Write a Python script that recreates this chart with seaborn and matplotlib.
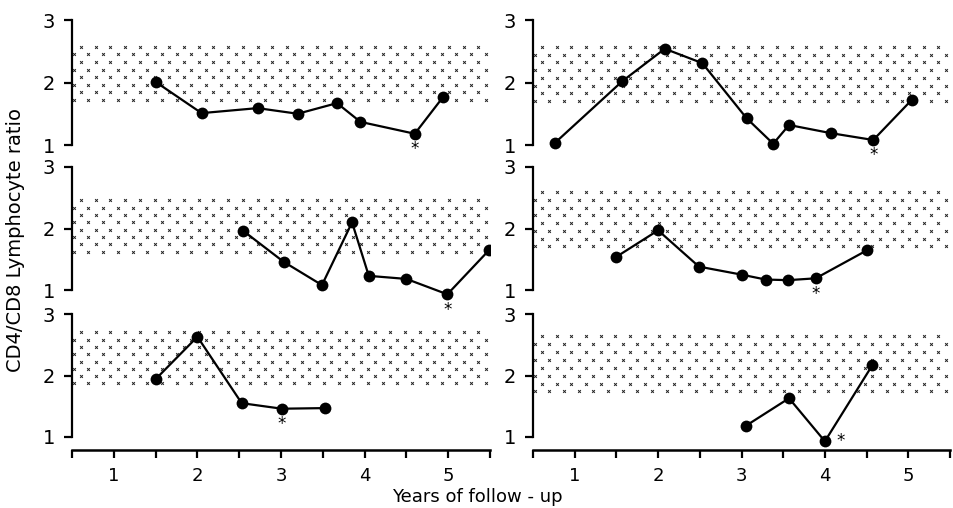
import numpy as np
import pandas as pd
import matplotlib
matplotlib.use("Agg")
from matplotlib import pyplot as plt
import seaborn as sns

# years of follow-up / CD4:CD8 ratio for each patient panel
years_tl = [1.5, 2.05, 2.72, 3.2, 3.67, 3.95, 4.6, 4.94]
ratio_tl = [2.01, 1.51, 1.59, 1.5, 1.67, 1.37, 1.18, 1.77]
years_tr = [0.76, 1.57, 2.08, 2.53, 3.06, 3.38, 3.57, 4.07, 4.58, 5.04]
ratio_tr = [1.03, 2.02, 2.54, 2.31, 1.43, 1.02, 1.32, 1.19, 1.08, 1.72]
years_ml = [2.55, 3.03, 3.49, 3.85, 4.05, 4.5, 4.99, 5.49]
ratio_ml = [1.96, 1.46, 1.08, 2.1, 1.23, 1.18, 0.93, 1.65]
years_mr = [1.5, 2.0, 2.49, 3.0, 3.29, 3.56, 3.89, 4.51]
ratio_mr = [1.54, 1.97, 1.38, 1.25, 1.17, 1.16, 1.19, 1.65]
years_bl = [1.5, 2.0, 2.53, 3.01, 3.53]
ratio_bl = [1.94, 2.63, 1.55, 1.46, 1.47]
years_br = [3.05, 3.57, 4.0, 4.57]
ratio_br = [1.18, 1.63, 0.93, 2.17]

# normal range (stippled band) per panel
band_low = [1.72, 1.70, 1.62, 1.71, 1.87, 1.74]
band_high = [2.57, 2.57, 2.46, 2.59, 2.70, 2.64]

# index of the point marked with an asterisk
star_idx = [6, 8, 6, 6, 3, 2]
star_side = ["below", "below", "below", "below", "below", "right"]

panels = [
    (years_tl, ratio_tl), (years_tr, ratio_tr),
    (years_ml, ratio_ml), (years_mr, ratio_mr),
    (years_bl, ratio_bl), (years_br, ratio_br),
]

sns.set_style("ticks")
plt.rcParams["font.family"] = ["DejaVu Sans"]
for key in ["text.color", "axes.labelcolor", "xtick.color", "ytick.color", "axes.edgecolor"]:
    plt.rcParams[key] = "black"

fig = plt.figure(figsize=(9.54, 5.08), dpi=100)

W, H = 954, 508
col_x = [(72, 490), (533, 950)]
# pixel of y=1 and px per unit for each row
row_y = [(145, 62.5), (290, 61.5), (437, 61.5)]
ylo, yhi = 0.79, 3.05

for i, (xs, ys) in enumerate(panels):
    r, c = divmod(i, 2)
    x0, x1 = col_x[c]
    p1, sc = row_y[r]
    bot = p1 + (1 - ylo) * sc
    top = p1 - (yhi - 1) * sc
    ax = fig.add_axes([x0 / W, 1 - bot / H, (x1 - x0) / W, (bot - top) / H])
    ax.set_facecolor("none")

    # stipple texture for the normal range: staggered rows of small crosses
    dx = 14.7 / 83.5
    rows = np.linspace(band_low[i], band_high[i], 8)
    sx, sy = [], []
    for j, yy in enumerate(rows):
        start = 0.52 + (dx / 2 if j % 2 else 0)
        for xx in np.arange(start, 5.5, dx):
            sx.append(xx)
            sy.append(yy)
    ax.scatter(sx, sy, marker="x", s=4, linewidths=0.7, color="#222222", zorder=1)

    df = pd.DataFrame({"year": xs, "ratio": ys})
    sns.lineplot(data=df, x="year", y="ratio", ax=ax, color="black",
                 marker="o", markersize=8.5, linewidth=1.6, markeredgewidth=0,
                 estimator=None, sort=False, zorder=3)

    k = star_idx[i]
    off = (0, -11) if star_side[i] == "below" else (11, 0)
    ax.annotate("*", (xs[k], ys[k]), xytext=off, textcoords="offset points",
                ha="center", va="center", fontsize=12, annotation_clip=False)

    ax.set_xlim(0.5, 5.5)
    ax.set_ylim(ylo, yhi)
    ax.set_xlabel("")
    ax.set_ylabel("")
    ax.set_yticks([1, 2, 3])
    ax.set_yticklabels(["1", "2", "3"], fontsize=14)
    ax.spines["left"].set_bounds(1, 3)
    ax.spines["left"].set_linewidth(1.6)
    ax.spines["top"].set_visible(False)
    ax.spines["right"].set_visible(False)
    ax.tick_params(axis="y", length=6, width=1.6, pad=6)

    if r < 2:
        ax.spines["bottom"].set_visible(False)
        ax.set_xticks([])
    else:
        ax.spines["bottom"].set_linewidth(1.8)
        ax.set_xticks([1, 2, 3, 4, 5])
        ax.set_xticklabels(["1", "2", "3", "4", "5"], fontsize=13)
        ax.set_xticks(np.arange(0.5, 5.6, 1.0), minor=True)
        ax.tick_params(axis="x", which="both", length=6, width=1.6, pad=6)

fig.text(0.016, 0.527, "CD4/CD8 Lymphocyte ratio", rotation=90,
         ha="center", va="center", fontsize=14)
fig.text(0.5, 0.022, "Years of follow - up", ha="center", va="center",
         fontsize=13)

fig.savefig("out.png", dpi=100)
